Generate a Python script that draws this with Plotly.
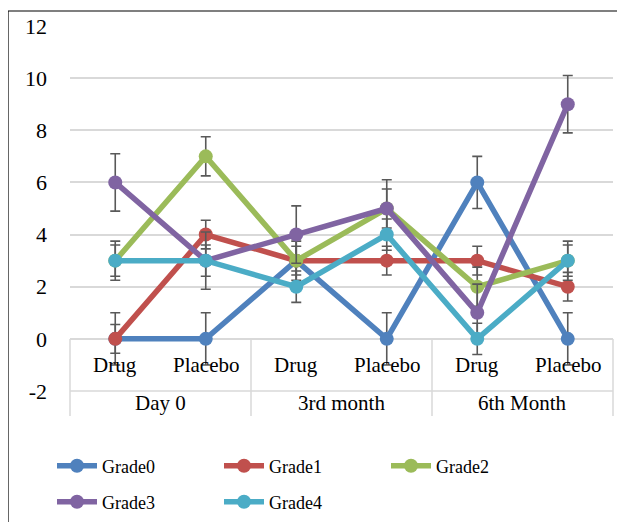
import plotly.graph_objects as go

groups = ["Day 0", "3rd month", "6th Month"]
subs = ["Drug", "Placebo"]
categories = [(g, s) for g in groups for s in subs]

series_names = ["Grade0", "Grade1", "Grade2", "Grade3", "Grade4"]
grade0 = [0, 0, 3, 0, 6, 0]
grade1 = [0, 4, 3, 3, 3, 2]
grade2 = [3, 7, 3, 5, 2, 3]
grade3 = [6, 3, 4, 5, 1, 9]
grade4 = [3, 3, 2, 4, 0, 3]
err0 = [1.0] * 6
err1 = [0.55] * 6
err2 = [0.75] * 6
err3 = [1.1] * 6
err4 = [0.6] * 6
yticks = [-2, 0, 2, 4, 6, 8, 10, 12]
ytick_labels = ["-2", "0", "2", "4", "6", "8", "10", "12"]

values = [grade0, grade1, grade2, grade3, grade4]
errors = [err0, err1, err2, err3, err4]
colors = ["#4F81BD", "#C0504D", "#9BBB59", "#8064A2", "#4BACC6"]

# page body has an 8px default margin; work in screen pixels and convert
OFF = 8
W, H = 617, 514
PL, PR, PT, PB = 70, 613, 26, 391  # plot area in screen pixels
L, T = PL - OFF, PT - OFF
R = W - (PR - OFF)
B = H - (PB - OFF)
pw, ph = PR - PL, PB - PT
FONT = "Liberation Serif"

def sx(px):
    return (px - PL) / pw

def sy(py):
    return (PB - py) / ph

n = len(categories)
xs = list(range(n))

fig = go.Figure()
for i, (name, vals, err, col) in enumerate(zip(series_names, values, errors, colors)):
    fig.add_trace(go.Scatter(
        x=xs, y=vals, name=name, mode="lines+markers",
        line=dict(color=col, width=5.5),
        marker=dict(color=col, size=14),
        error_y=dict(type="data", array=err, visible=True, color="#595959", thickness=1.6, width=5),
        legend="legend" if i < 3 else "legend2",
    ))

shapes = []
grid_col = "#D9D9D9"
for k in range(len(groups) + 1):
    xp = (k * len(subs)) / n
    shapes.append(dict(type="line", xref="paper", yref="paper", x0=xp, x1=xp,
                       y0=sy(339), y1=sy(416), line=dict(color=grid_col, width=1.5)))
shapes.append(dict(type="line", xref="paper", yref="paper", x0=0, x1=1,
                   y0=0, y1=0, line=dict(color=grid_col, width=1.5)))
shapes.append(dict(type="rect", xref="paper", yref="paper",
                   x0=sx(8), x1=sx(660), y0=sy(560), y1=sy(11),
                   line=dict(color="black", width=1.2), fillcolor="rgba(0,0,0,0)", layer="below"))

annotations = []
for i, (g, s) in enumerate(categories):
    annotations.append(dict(x=i, y=sy(365), xref="x", yref="paper", text=s,
                            xanchor="center", yanchor="middle",
                            showarrow=False, font=dict(family=FONT, size=21, color="black")))
for gi, g in enumerate(groups):
    annotations.append(dict(x=gi * len(subs) + (len(subs) - 1) / 2, y=sy(403),
                            xref="x", yref="paper", text=g, showarrow=False,
                            xanchor="center", yanchor="middle",
                            font=dict(family=FONT, size=21, color="black")))

leg_common = dict(orientation="h", xanchor="left", yanchor="middle",
                  entrywidth=112, entrywidthmode="pixels",
                  font=dict(family=FONT, size=18, color="black"),
                  itemwidth=40, bgcolor="rgba(0,0,0,0)")

fig.update_layout(
    width=W, height=H,
    margin=dict(l=L, r=R, t=T, b=B, autoexpand=False),
    paper_bgcolor="white", plot_bgcolor="white",
    font=dict(family=FONT, color="black"),
    xaxis=dict(range=[-0.5, n - 0.5], showgrid=False, zeroline=False, showticklabels=False,
               showline=False, ticks=""),
    yaxis=dict(range=[-2, 12], tickvals=yticks, ticktext=ytick_labels, showgrid=True,
               gridcolor=grid_col, gridwidth=1.5,
               zeroline=False, showline=False, ticks="", ticklabelstandoff=22,
               tickfont=dict(family=FONT, size=22, color="black")),
    showlegend=True,
    legend=dict(x=sx(52), y=sy(466), **leg_common),
    legend2=dict(x=sx(52), y=sy(502), **leg_common),
    shapes=shapes, annotations=annotations,
)

fig.write_html("out.html")
